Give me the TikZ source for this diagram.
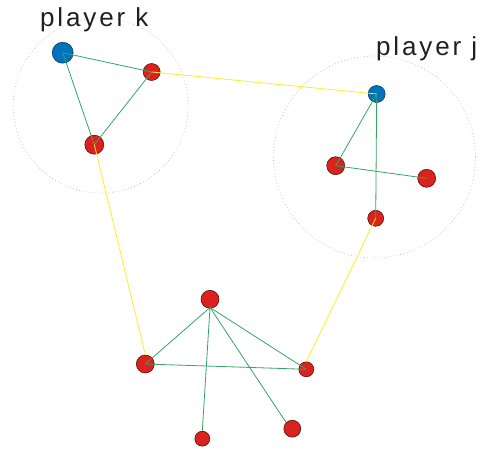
\documentclass[tikz,border=0pt]{standalone}
\usepackage{fontspec}
\setmainfont{Liberation Sans}
\definecolor{nred}{RGB}{218,34,30}
\definecolor{nblue}{RGB}{0,114,190}
\definecolor{ggreen}{RGB}{52,165,100}
\definecolor{gyellow}{RGB}{250,238,40}
\definecolor{tgray}{RGB}{35,31,32}
\begin{document}
\begin{tikzpicture}[x=1pt,y=-1pt,
  rnode/.style={circle,draw=black!70!nred,line width=0.5pt,fill=nred,inner sep=0pt,minimum size=#1},
  bnode/.style={circle,draw=black!60!nblue,line width=0.5pt,fill=nblue,inner sep=0pt,minimum size=#1},
  gedge/.style={draw=ggreen,line width=0.8pt},
  yedge/.style={draw=gyellow,line width=0.8pt},
  region/.style={draw=black!28,line width=0.7pt,dash pattern=on 0.7pt off 2.6pt},
  lbl/.style={text=tgray,font=\fontsize{26}{26}\selectfont\addfontfeatures{LetterSpace=11},anchor=base west,inner sep=0pt}]
\useasboundingbox (0,0) rectangle (480,449);
\draw[region] (100.7,105.5) circle (87.5);
\draw[region] (374.5,157) circle (101);
\node[lbl] (tk) at (40,26.5) {player k};
\node[lbl] (tj) at (376,56) {player j};
% nodes
\node[bnode=21pt] (k1) at (62.7,52.7) {};
\node[rnode=17pt] (k2) at (151.7,72) {};
\node[rnode=19pt] (k3) at (94.3,144.7) {};
\node[bnode=17pt] (j1) at (376.7,94) {};
\node[rnode=18pt] (j2) at (335.7,165.7) {};
\node[rnode=18pt] (j3) at (426.7,178.3) {};
\node[rnode=16pt] (j4) at (375.7,218.3) {};
\node[rnode=18pt] (b1) at (210,299.3) {};
\node[rnode=18pt] (b2) at (145.3,364) {};
\node[rnode=15pt] (b3) at (306.3,369.3) {};
\node[rnode=15pt] (b4) at (202.3,438.7) {};
\node[rnode=17pt] (b5) at (292.3,428.7) {};
\coordinate (b1s) at (210,307.5);
% edges
\draw[gedge] (k1.center) -- (k2.center);
\draw[gedge] (k1.center) -- (k3.center);
\draw[gedge] (k2.center) -- (k3.center);
\draw[gedge] (j1.center) -- (j2.center);
\draw[gedge] (j1.center) -- (j4.center);
\draw[gedge] (j2.center) -- (j3.center);
\draw[gedge] (b1s) -- (b2.center);
\draw[gedge] (b1s) -- (b3.center);
\draw[gedge] (b1s) -- (b4.north);
\draw[gedge] (b1s) -- (b5.north west);
\draw[gedge] (b2.center) -- (b3.center);
\draw[yedge] (k2.center) -- (j1.center);
\draw[yedge] (k3.center) -- (b2.north);
\draw[yedge] (j4.center) -- (b3.north);
\end{tikzpicture}
\end{document}
